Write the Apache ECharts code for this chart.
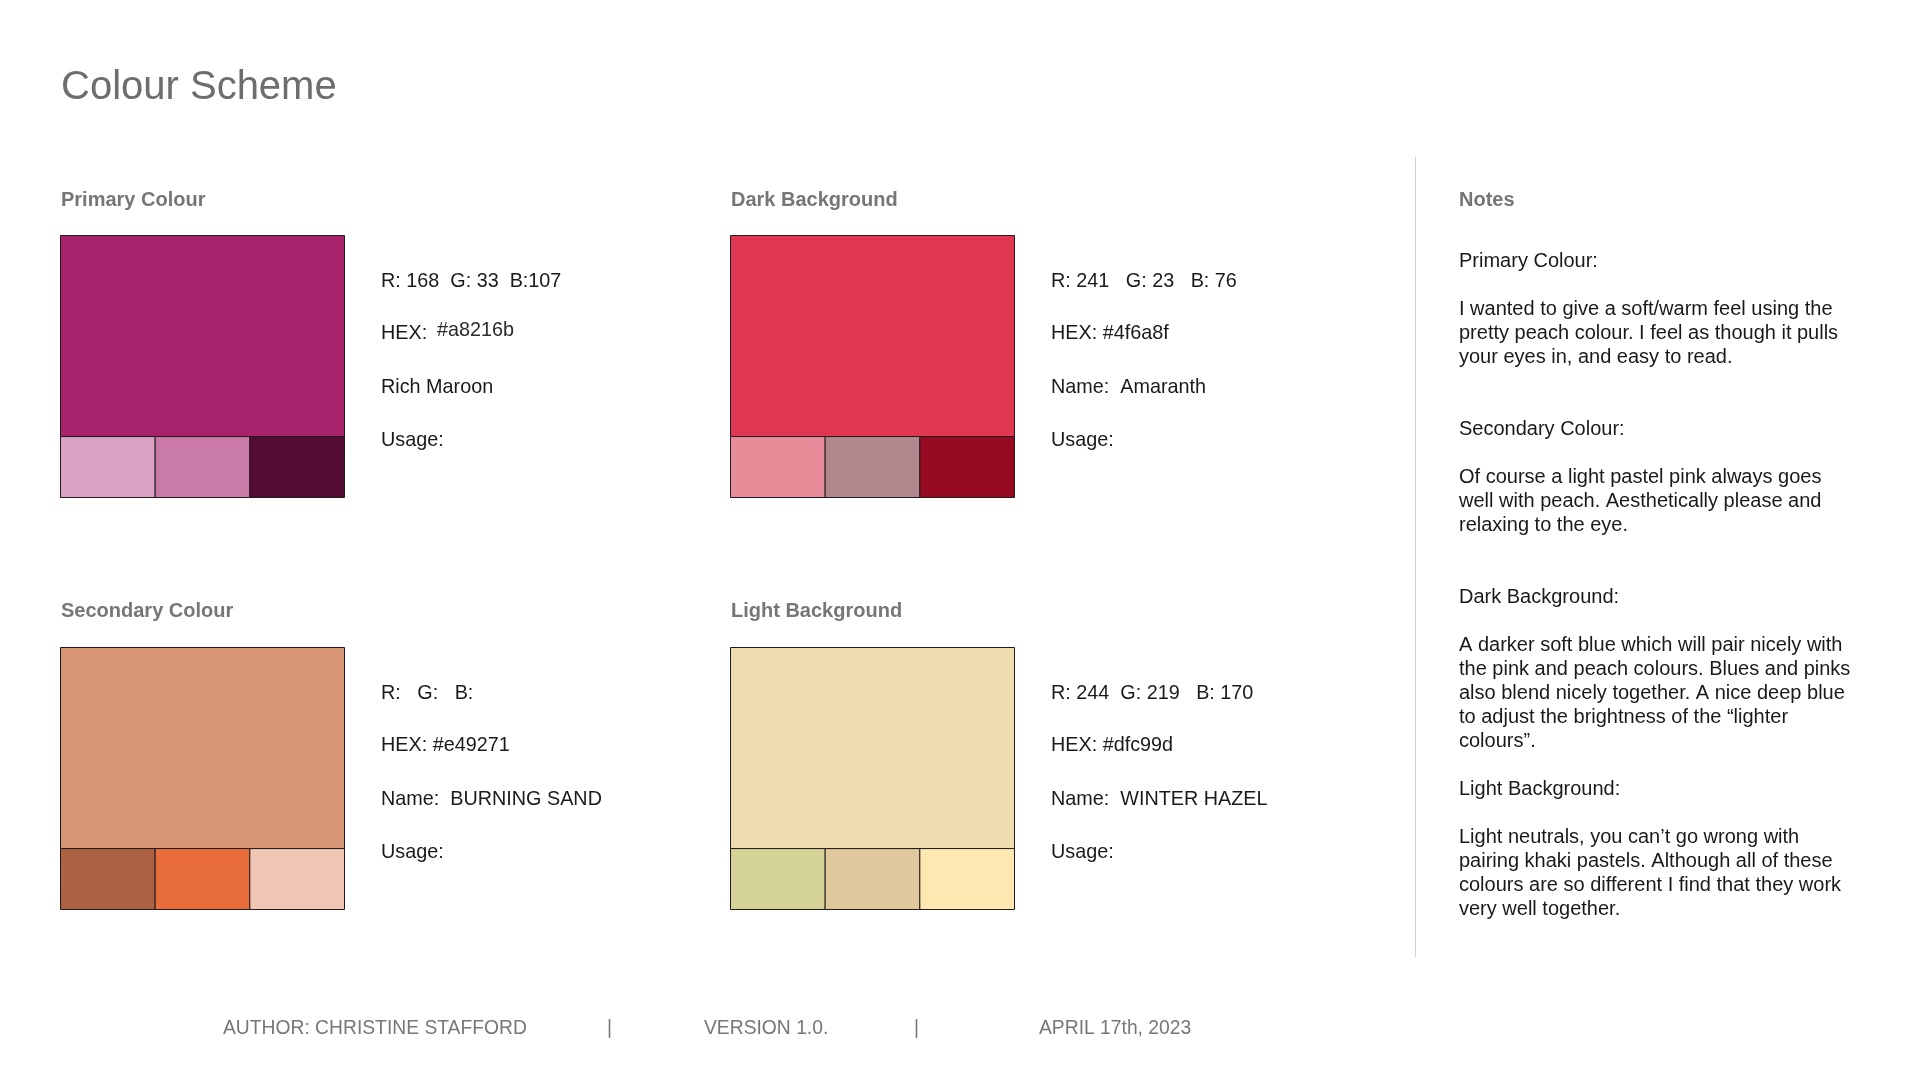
<!DOCTYPE html>
<html>
<head>
<meta charset="utf-8">
<script src="https://cdn.jsdelivr.net/npm/echarts@6/dist/echarts.min.js"></script>
<style>
  html, body { margin: 0; padding: 0; background: #ffffff; }
  #chart { width: 1920px; height: 1080px; }
</style>
</head>
<body>
<div id="chart"></div>
<script>
// ---------- data ----------
const pageTitle = 'Colour Scheme';
const swatchNames = ['Primary Colour', 'Dark Background', 'Secondary Colour', 'Light Background'];
const mainColours = ['#a8216b', '#df3751', '#d69575', '#eedbae'];
const tintColours = [
  ['#d9a2c3', '#c97aa7', '#540b33'],
  ['#e98c99', '#b2888e', '#970b22'],
  ['#ab6142', '#e86d3a', '#efc5b3'],
  ['#d5d397', '#dfc99c', '#fde8b2']
];
const tintSlots = ['tint 1', 'tint 2', 'tint 3'];
const bandNames = ['main', 'tint'];
const bandShare = [3.3, 1];
const rgbLabels = ['R: 168  G: 33  B:107', 'R: 241   G: 23   B: 76', 'R:   G:   B:', 'R: 244  G: 219   B: 170'];
const hexPrefix = ['HEX:', 'HEX: #4f6a8f', 'HEX: #e49271', 'HEX: #dfc99d'];
const hexExtra = ['#a8216b', '', '', ''];
const nameLabels = ['Rich Maroon', 'Name:  Amaranth', 'Name:  BURNING SAND', 'Name:  WINTER HAZEL'];
const usageLabels = ['Usage:', 'Usage:', 'Usage:', 'Usage:'];
const notesTitle = 'Notes';
const notesLines = [
  'Primary Colour:',
  '',
  'I wanted to give a soft/warm feel using the',
  'pretty peach colour. I feel as though it pulls',
  'your eyes in, and easy to read.',
  '',
  '',
  'Secondary Colour:',
  '',
  'Of course a light pastel pink always goes',
  'well with peach. Aesthetically please and',
  'relaxing to the eye.',
  '',
  '',
  'Dark Background:',
  '',
  'A darker soft blue which will pair nicely with',
  'the pink and peach colours. Blues and pinks',
  'also blend nicely together. A nice deep blue',
  'to adjust the brightness of the \u201clighter',
  'colours\u201d.',
  '',
  'Light Background:',
  '',
  'Light neutrals, you can\u2019t go wrong with',
  'pairing khaki pastels. Although all of these',
  'colours are so different I find that they work',
  'very well together.'
];
const footerItems = ['AUTHOR: CHRISTINE STAFFORD', '|', 'VERSION 1.0.', '|', 'APRIL 17th, 2023'];

// ---------- layout ----------
const FONT = '"Liberation Sans", Arial, Helvetica, sans-serif';
const boxLeft = [60.5, 730.5, 60.5, 730.5];
const boxTop = [235.5, 235.5, 647.5, 647.5];
const boxW = 284;
const boxH = 262;
const textLeft = [381, 1051, 381, 1051];
const rowCenters = [[281.5, 333.5, 387.5, 440.5], [281.5, 333.5, 387.5, 440.5], [693.5, 745.5, 799.5, 852.5], [693.5, 745.5, 799.5, 852.5]];
const headerPos = [[61, 200], [731, 200], [61, 611], [731, 611]];
const footerX = [223, 607, 704, 914, 1039];

const totalShare = bandShare[0] + bandShare[1];

const grids = [], xAxes = [], yAxes = [], series = [];
swatchNames.forEach(function (name, i) {
  grids.push({ left: boxLeft[i], top: boxTop[i], width: boxW, height: boxH, show: false, containLabel: false });
  xAxes.push({ type: 'value', gridIndex: i, min: 0, max: tintSlots.length, show: false });
  yAxes.push({ type: 'value', gridIndex: i, min: 0, max: totalShare, show: false });
  const items = [];
  items.push({ name: name + ' main', value: [0, tintSlots.length, bandShare[1], bandShare[1] + bandShare[0]], itemStyle: { color: mainColours[i] } });
  tintColours[i].forEach(function (c, k) {
    items.push({ name: name + ' ' + tintSlots[k], value: [k, k + 1, 0, bandShare[1]], itemStyle: { color: c } });
  });
  series.push({
    type: 'custom',
    name: name,
    coordinateSystem: 'cartesian2d',
    xAxisIndex: i,
    yAxisIndex: i,
    silent: true,
    animation: false,
    data: items,
    renderItem: function (params, api) {
      const p0 = api.coord([api.value(0), api.value(2)]);
      const p1 = api.coord([api.value(1), api.value(3)]);
      const item = items[params.dataIndex];
      return {
        type: 'rect',
        shape: { x: p0[0], y: p1[1], width: p1[0] - p0[0], height: p0[1] - p1[1] },
        style: { fill: item.itemStyle.color, stroke: '#221a1c', lineWidth: 1 }
      };
    }
  });
});

const graphics = [];
function txt(x, y, text, size, color, weight) {
  graphics.push({
    type: 'text', x: x, y: y, silent: true,
    style: { text: text, fill: color, fontSize: size, fontFamily: FONT, fontWeight: weight || 'normal', verticalAlign: 'middle', align: 'left' }
  });
}
txt(61, 88, pageTitle, 40, '#6d6d6d');
swatchNames.forEach(function (name, i) {
  txt(headerPos[i][0], headerPos[i][1], name, 20, '#767676', 'bold');
  txt(textLeft[i], rowCenters[i][0], rgbLabels[i], 19.8, '#1a1a1a');
  txt(textLeft[i], rowCenters[i][1], hexPrefix[i], 19.8, '#1a1a1a');
  if (hexExtra[i]) txt(textLeft[i] + 56, rowCenters[i][1] - 3, hexExtra[i], 19.8, '#2a2a2a');
  txt(textLeft[i], rowCenters[i][2], nameLabels[i], 19.8, '#1a1a1a');
  txt(textLeft[i], rowCenters[i][3], usageLabels[i], 19.8, '#1a1a1a');
});
txt(1459, 200, notesTitle, 20, '#767676', 'bold');
graphics.push({
  type: 'text', x: 1459, y: 249, silent: true,
  style: { text: notesLines.join('\n'), fill: '#1a1a1a', fontSize: 20, fontFamily: FONT, lineHeight: 24, verticalAlign: 'top', align: 'left' }
});
graphics.push({
  type: 'line', silent: true,
  shape: { x1: 1415.5, y1: 157, x2: 1415.5, y2: 957 },
  style: { stroke: '#d4d4d4', lineWidth: 1 }
});
footerItems.forEach(function (t, k) {
  txt(footerX[k], 1029, t, 19.3, '#777777');
});

const chart = echarts.init(document.getElementById('chart'), null, { renderer: 'canvas' });
chart.setOption({
  backgroundColor: '#ffffff',
  animation: false,
  grid: grids,
  xAxis: xAxes,
  yAxis: yAxes,
  series: series,
  graphic: graphics
});
</script>
</body>
</html>
